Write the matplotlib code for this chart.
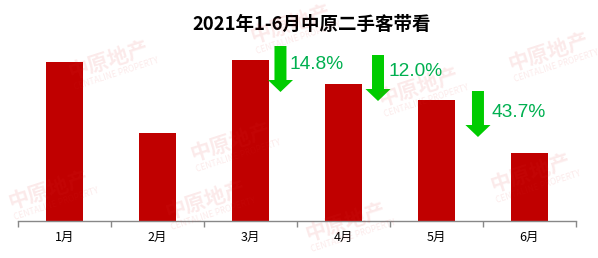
import numpy as np
import matplotlib.pyplot as plt
from matplotlib.patches import FancyArrow

plt.rcParams['font.family'] = ['Noto Sans CJK SC', 'DejaVu Sans']

months = ['1月', '2月', '3月', '4月', '5月', '6月']
visits = [159, 88, 161, 137.2, 120.7, 68.0]
drops = ['14.8%', '12.0%', '43.7%']
drop_from = [2, 3, 4]          # month index the drop starts from

bar_color = '#C00000'
arrow_color = '#00CC00'
pct_color = '#00B050'

fig = plt.figure(figsize=(5.98, 2.58), dpi=100)
ax = fig.add_axes([18.3 / 598, 37 / 258, 557.4 / 598, 181 / 258])

x = np.arange(len(months))
ax.bar(x, visits, width=0.4, color=bar_color, zorder=2)
ax.set_xlim(-0.5, len(months) - 0.5)
ax.set_ylim(0, 181)

# arrows + labels (layout offsets in axis units)
arrow_dx = [0.322, 0.372, 0.448]
arrow_top = [175, 166, 130]
arrow_len = [46, 46, 46]
text_dx = [0.414, 0.49, 0.599]
text_y = [156, 149, 108]
for i, start in enumerate(drop_from):
    ax.add_patch(FancyArrow(start + arrow_dx[i], arrow_top[i], 0, -arrow_len[i],
                            width=0.129, head_width=0.27, head_length=12,
                            length_includes_head=True, color=arrow_color,
                            lw=0, zorder=3))
    ax.text(start + text_dx[i], text_y[i], drops[i], color=pct_color,
            fontsize=13.8, family=['Liberation Sans', 'DejaVu Sans'],
            ha='left', va='center', zorder=3)

for s in ['top', 'right', 'left']:
    ax.spines[s].set_visible(False)
ax.spines['bottom'].set_color('#888888')
ax.spines['bottom'].set_linewidth(1)
ax.set_yticks([])
ax.set_xticks(x)
ax.set_xticklabels(months, fontsize=9)
ax.set_xticks(np.arange(-0.5, len(months)), minor=True)
ax.tick_params(axis='x', which='major', length=0, pad=7)
ax.tick_params(axis='x', which='minor', length=4, color='#888888', width=1)

fig.text(312 / 598, 1 - 24 / 258, '2021年1-6月中原二手客带看', ha='center',
         va='center', fontsize=13.3, fontweight='bold', color='black')

# faint company watermarks
marks = [(108, 60), (230, 142), (48, 190), (290, 24), (418, 87),
         (548, 52), (530, 173), (345, 222), (205, 200)]
for mx, my in marks:
    fig.text(mx / 598, 1 - my / 258, '中原地产', fontsize=15, fontweight='bold',
             color='#E03030', alpha=0.1, rotation=18, ha='center', va='center',
             zorder=5)
    fig.text((mx + 8) / 598, 1 - (my + 14) / 258, 'CENTALINE PROPERTY',
             fontsize=6, color='#E03030', alpha=0.1, rotation=18,
             ha='center', va='center', zorder=5)

fig.savefig('out.png', dpi=100)
